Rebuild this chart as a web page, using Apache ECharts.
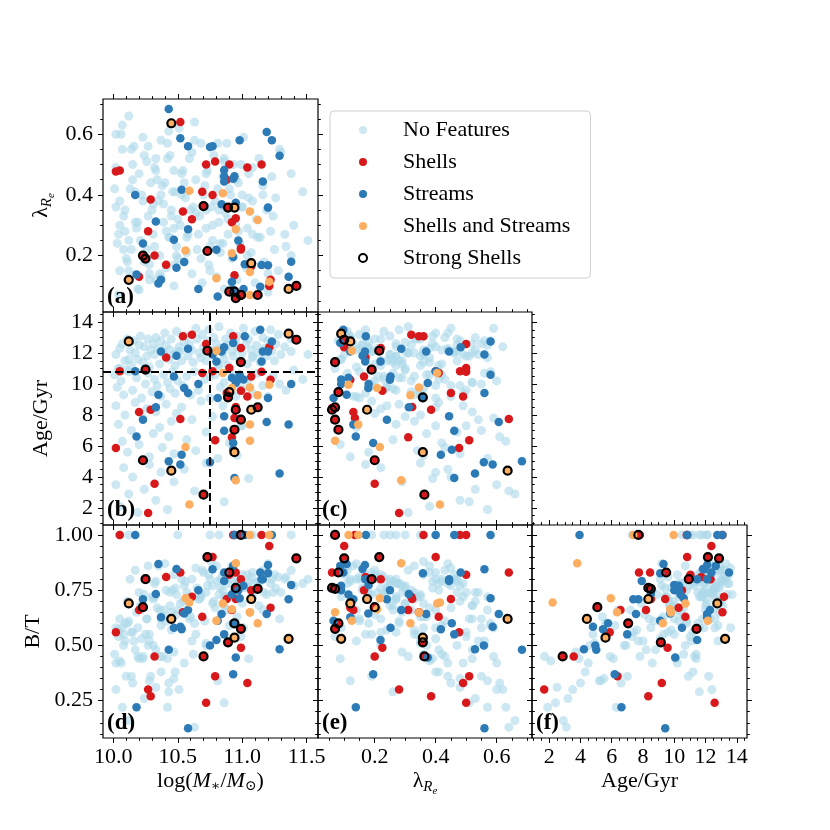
<!DOCTYPE html>
<html lang="en">
<head>
<meta charset="UTF-8">
<title>Tidal features corner plot</title>
<style>
    html, body { margin: 0; padding: 0; background: #fff; }
    #main { width: 830px; height: 830px; }
</style>
<script src="https://cdn.jsdelivr.net/npm/echarts@6/dist/echarts.min.js"></script>
</head>
<body>
<div id="main"></div>
<script>
// one row per galaxy: [log M*, lambda_Re, age (Gyr), B/T]
var noFeatures = [
    [10.02, 0.36, 11.9, 0.58], [10.05, 0.15, 12.3, 0.62], [10.07, 0.55, 12.6, 0.58], [10.09, 0.28, 11.5, 0.60],
    [10.11, 0.12, 12.9, 0.70], [10.13, 0.42, 12.2, 0.80], [10.14, 0.22, 11.2, 0.56], [10.16, 0.56, 12.8, 0.52],
    [10.17, 0.31, 12.0, 0.84], [10.19, 0.09, 11.6, 0.58], [10.20, 0.47, 12.5, 0.74], [10.21, 0.25, 13.1, 0.68],
    [10.23, 0.38, 11.4, 0.44], [10.24, 0.18, 12.4, 0.73], [10.26, 0.51, 11.8, 0.62], [10.27, 0.33, 12.9, 0.86],
    [10.28, 0.14, 11.1, 0.52], [10.29, 0.44, 12.2, 0.36], [10.04, 0.07, 11.0, 0.54], [10.10, 0.19, 10.9, 0.36],
    [10.31, 0.27, 12.6, 0.71], [10.32, 0.49, 11.9, 0.78], [10.33, 0.12, 13.0, 0.79], [10.35, 0.38, 12.3, 0.86],
    [10.36, 0.20, 11.3, 0.45], [10.37, 0.58, 12.8, 0.59], [10.39, 0.31, 12.0, 0.66], [10.40, 0.44, 13.3, 0.87],
    [10.41, 0.16, 12.5, 0.75], [10.43, 0.26, 11.6, 0.29], [10.44, 0.53, 12.2, 0.74], [10.45, 0.35, 12.9, 0.65],
    [10.47, 0.10, 11.9, 0.82], [10.48, 0.41, 11.2, 0.38], [10.49, 0.23, 13.4, 0.73], [10.51, 0.62, 12.4, 0.30],
    [10.52, 0.30, 12.1, 0.69], [10.53, 0.47, 11.5, 0.80], [10.55, 0.18, 12.7, 0.77], [10.56, 0.39, 13.1, 0.79],
    [10.58, 0.27, 11.8, 0.72], [10.59, 0.52, 12.6, 0.62], [10.61, 0.14, 12.2, 0.80], [10.62, 0.36, 11.4, 0.46],
    [10.64, 0.45, 13.6, 0.85], [10.65, 0.22, 12.9, 0.76], [10.67, 0.33, 12.0, 0.71], [10.68, 0.57, 11.7, 0.72],
    [10.69, 0.11, 13.2, 0.84], [10.70, 0.40, 12.4, 0.83],
    [10.72, 0.29, 11.5, 0.74], [10.73, 0.48, 12.8, 0.77], [10.74, 0.17, 13.5, 0.82], [10.76, 0.36, 12.2, 0.88],
    [10.77, 0.25, 11.9, 0.77], [10.78, 0.53, 13.0, 0.70], [10.80, 0.13, 12.6, 0.86], [10.81, 0.42, 11.3, 0.79],
    [10.82, 0.31, 13.7, 0.73], [10.83, 0.21, 12.3, 0.80], [10.85, 0.46, 12.0, 0.82], [10.86, 0.09, 11.6, 0.72],
    [10.87, 0.34, 12.9, 0.72], [10.88, 0.57, 12.5, 0.66], [10.89, 0.27, 11.2, 0.78], [10.91, 0.40, 13.3, 0.80],
    [10.92, 0.19, 12.1, 0.83], [10.93, 0.50, 11.8, 0.74], [10.95, 0.30, 12.7, 0.76], [10.96, 0.12, 13.1, 0.80],
    [10.97, 0.44, 12.3, 0.78], [10.98, 0.24, 11.5, 0.79], [11.00, 0.36, 12.0, 0.82], [11.01, 0.59, 13.6, 0.58],
    [11.03, 0.16, 12.6, 0.76], [11.04, 0.29, 11.3, 0.77], [11.05, 0.47, 12.9, 0.79], [11.07, 0.21, 12.2, 0.81],
    [11.08, 0.38, 11.7, 0.83], [11.10, 0.11, 13.4, 0.78], [11.11, 0.32, 12.5, 0.75], [11.13, 0.52, 12.0, 0.68],
    [11.14, 0.26, 11.4, 0.79], [11.16, 0.43, 13.0, 0.84], [11.17, 0.18, 12.3, 0.74], [11.19, 0.35, 11.8, 0.73],
    [11.20, 0.08, 12.8, 0.83], [11.22, 0.28, 13.5, 0.78], [11.23, 0.46, 12.1, 0.80], [11.25, 0.22, 11.5, 0.82],
    [11.26, 0.39, 12.6, 0.76], [11.28, 0.15, 13.2, 0.81], [11.30, 0.54, 11.9, 0.74], [11.33, 0.27, 12.4, 0.80],
    [11.38, 0.20, 12.9, 0.84],
    [10.01, 0.42, 10.6, 0.46], [10.03, 0.24, 9.8, 0.57], [10.06, 0.60, 10.2, 0.42], [10.08, 0.33, 9.3, 0.55],
    [10.12, 0.15, 10.8, 0.61], [10.15, 0.50, 9.6, 0.56], [10.18, 0.29, 10.4, 0.65], [10.22, 0.40, 9.1, 0.53],
    [10.25, 0.19, 10.0, 0.55], [10.27, 0.56, 10.7, 0.50], [10.30, 0.35, 9.5, 0.72], [10.32, 0.23, 10.3, 0.72],
    [10.34, 0.45, 9.9, 0.67], [10.37, 0.13, 9.2, 0.62], [10.39, 0.37, 10.6, 0.63], [10.42, 0.52, 10.1, 0.44],
    [10.44, 0.26, 9.7, 0.68], [10.46, 0.41, 10.8, 0.75], [10.48, 0.17, 9.4, 0.76], [10.50, 0.32, 10.2, 0.66],
    [10.54, 0.48, 9.9, 0.70], [10.57, 0.21, 10.5, 0.74], [10.60, 0.35, 9.3, 0.63], [10.63, 0.58, 10.8, 0.60],
    [10.66, 0.27, 9.6, 0.71], [10.71, 0.43, 10.3, 0.61], [10.75, 0.15, 9.1, 0.80], [10.79, 0.38, 10.6, 0.67],
    [10.83, 0.24, 9.8, 0.76], [10.86, 0.52, 10.1, 0.68], [10.89, 0.32, 9.5, 0.72], [10.92, 0.11, 10.7, 0.86],
    [10.95, 0.45, 9.2, 0.77], [10.97, 0.28, 10.4, 0.78], [11.00, 0.36, 9.7, 0.69],
    [11.04, 0.20, 10.2, 0.82], [11.08, 0.49, 9.4, 0.72], [11.12, 0.26, 10.7, 0.79], [11.16, 0.40, 9.9, 0.66],
    [11.20, 0.14, 9.2, 0.87], [11.24, 0.33, 10.5, 0.74], [11.29, 0.55, 10.0, 0.62], [11.34, 0.23, 9.6, 0.81],
    [11.40, 0.30, 10.9, 0.77], [11.47, 0.41, 10.3, 0.78], [11.51, 0.25, 11.9, 0.80],
    [10.02, 0.49, 8.6, 0.42], [10.04, 0.27, 7.4, 0.56], [10.07, 0.63, 6.3, 0.22], [10.09, 0.35, 8.0, 0.52],
    [10.11, 0.18, 5.6, 0.60], [10.14, 0.55, 7.0, 0.36], [10.17, 0.41, 8.8, 0.48], [10.20, 0.087, 6.1, 0.44],
    [10.23, 0.59, 7.8, 0.45], [10.26, 0.22, 8.4, 0.62], [10.28, 0.12, 5.3, 0.34], [10.31, 0.37, 6.8, 0.50],
    [10.33, 0.52, 8.2, 0.48], [10.36, 0.14, 7.2, 0.66], [10.38, 0.43, 5.9, 0.45], [10.41, 0.28, 8.7, 0.61],
    [10.43, 0.61, 6.6, 0.33], [10.45, 0.33, 7.6, 0.57], [10.47, 0.48, 5.5, 0.35], [10.49, 0.20, 8.1, 0.64],
    [10.53, 0.40, 8.5, 0.58], [10.57, 0.26, 6.4, 0.66], [10.61, 0.54, 7.7, 0.52], [10.64, 0.34, 5.7, 0.55],
    [10.68, 0.19, 8.9, 0.73], [10.72, 0.47, 6.9, 0.50], [10.77, 0.30, 7.9, 0.69], [10.81, 0.57, 5.2, 0.34],
    [10.85, 0.24, 8.6, 0.75], [10.90, 0.42, 6.2, 0.59], [10.96, 0.36, 5.4, 0.63], [10.99, 0.50, 7.3, 0.54],
    [10.02, 0.60, 3.5, 0.30], [10.05, 0.38, 2.1, 0.43], [10.08, 0.22, 4.6, 0.50], [10.12, 0.66, 2.9, 0.16],
    [10.15, 0.45, 4.0, 0.33], [10.19, 0.31, 1.7, 0.45], [10.24, 0.53, 3.2, 0.26], [10.28, 0.17, 4.8, 0.55],
    [10.33, 0.48, 2.5, 0.31], [10.37, 0.40, 4.3, 0.38], [10.42, 0.57, 1.9, 0.22], [10.47, 0.29, 3.7, 0.47],
    [10.55, 0.44, 4.5, 0.42], [10.63, 0.64, 3.1, 0.13], [10.72, 0.35, 4.9, 0.51], [10.86, 0.51, 2.4, 0.24],
    [11.05, 0.39, 3.9, 0.44],
    [10.12, 0.25, 11.6, 1.00], [10.50, 0.19, 12.1, 1.00], [10.75, 0.23, 10.5, 1.00], [10.82, 0.35, 11.2, 1.00],
    [11.00, 0.40, 7.3, 1.00], [11.08, 0.27, 11.8, 1.00], [11.38, 0.47, 12.1, 1.00], [10.05, 0.30, 11.0, 1.00]
];

// 5th column: 1 = strong shell
var shells = [
    [10.05, 0.48, 10.82, 1.00, 0], [10.41, 0.17, 11.72, 0.81, 0], [10.54, 0.345, 13.08, 0.65, 0],
    [10.61, 0.32, 13.18, 0.72, 0], [10.72, 0.50, 12.58, 0.24, 0], [10.69, 0.41, 10.71, 0.63, 0],
    [10.77, 0.40, 10.82, 0.90, 0], [10.93, 0.36, 13.08, 1.00, 0], [10.99, 0.22, 12.32, 0.80, 0],
    [11.07, 0.165, 10.49, 0.75, 0], [11.21, 0.10, 12.37, 0.95, 0], [11.22, 0.12, 10.28, 0.67, 0],
    [10.88, 0.45, 9.42, 0.71, 0], [10.99, 0.225, 9.57, 0.49, 0], [11.04, 0.49, 9.20, 0.33, 0],
    [10.94, 0.135, 7.80, 1.00, 0], [10.92, 0.31, 6.56, 0.66, 0], [10.79, 0.51, 6.37, 0.36, 0],
    [10.52, 0.64, 7.74, 0.83, 0], [10.29, 0.385, 8.34, 0.27, 0], [10.20, 0.13, 8.19, 0.66, 0],
    [10.02, 0.477, 5.87, 0.56, 0], [10.32, 0.20, 3.57, 0.45, 0], [10.27, 0.28, 1.68, 0.30, 0],
    [10.95, 0.06, 8.45, 0.83, 0], [10.95, 0.323, 8.51, 0.71, 0], [11.15, 0.50, 10.80, 1.00, 0],
    [10.90, 0.50, 11.03, 0.82, 0],
    [10.25, 0.19, 10.93, 0.80, 1], [10.73, 0.215, 12.15, 0.90, 1], [10.99, 0.07, 11.42, 0.575, 1],
    [11.42, 0.10, 12.86, 0.894, 1], [10.89, 0.358, 9.14, 0.514, 1], [10.90, 0.081, 9.48, 0.83, 1],
    [10.95, 0.06, 8.34, 0.76, 1], [10.99, 0.07, 7.70, 1.00, 1], [11.12, 0.07, 8.50, 0.756, 1],
    [10.94, 0.081, 7.05, 0.60, 1], [10.23, 0.20, 5.08, 0.673, 1], [10.70, 0.363, 2.86, 0.45, 1]
];

var streams = [
    [11.14, 0.097, 13.50, 0.83], [11.02, 0.171, 13.08, 1.00], [10.93, 0.087, 12.65, 0.86], [10.86, 0.482, 12.37, 0.83],
    [10.84, 0.369, 12.10, 0.642], [10.80, 0.219, 11.46, 0.525], [10.77, 0.56, 11.90, 0.845], [10.58, 0.287, 12.28, 0.66],
    [10.49, 0.16, 11.83, 0.846], [10.37, 0.12, 12.10, 0.627], [10.17, 0.40, 10.82, 1.00], [10.47, 0.252, 10.49, 0.58],
    [10.66, 0.09, 10.00, 0.75], [10.55, 0.179, 9.74, 0.645], [10.58, 0.56, 9.42, 0.125], [10.35, 0.108, 9.31, 0.869],
    [10.33, 0.312, 8.50, 0.733], [10.23, 0.24, 7.70, 0.709], [10.18, 0.138, 6.62, 0.22], [10.53, 0.417, 5.44, 0.573],
    [10.52, 0.587, 4.80, 0.585], [10.43, 0.683, 5.01, 0.48], [10.75, 0.558, 4.95, 0.50], [10.94, 0.461, 3.94, 1.00],
    [11.29, 0.529, 4.22, 0.483], [11.36, 0.13, 7.38, 0.709], [11.19, 0.607, 7.55, 0.642], [10.93, 0.195, 6.19, 0.37],
    [10.86, 0.461, 6.99, 0.55], [10.97, 0.25, 10.28, 0.75], [10.98, 0.58, 10.60, 0.713], [10.95, 0.374, 10.06, 0.445],
    [11.01, 0.09, 10.30, 0.77], [10.92, 0.114, 10.40, 0.73], [10.81, 0.065, 9.10, 0.612], [11.15, 0.169, 11.46, 0.80],
    [11.23, 0.58, 12.75, 1.00], [11.20, 0.168, 12.10, 0.864], [11.16, 0.444, 12.10, 0.80], [11.38, 0.18, 10.00, 0.774],
    [11.20, 0.358, 9.10, 0.827], [10.93, 0.453, 5.76, 0.60], [10.86, 0.444, 7.92, 0.792]
];

var shellsStreams = [
    [10.80, 0.125, 12.15, 0.612, 0], [10.85, 0.405, 10.71, 0.69, 0], [11.06, 0.345, 9.78, 0.649, 0],
    [11.12, 0.317, 9.27, 0.60, 0], [11.21, 0.114, 9.96, 1.00, 0], [10.92, 0.208, 9.74, 0.664, 0],
    [11.06, 0.146, 7.38, 1.00, 0], [11.06, 0.07, 6.34, 0.65, 0], [10.56, 0.217, 5.94, 0.713, 0],
    [10.95, 0.287, 3.79, 0.872, 0], [10.59, 0.414, 2.22, 0.694, 0],
    [11.36, 0.09, 13.25, 0.53, 1], [10.12, 0.12, 12.75, 0.69, 1], [11.07, 0.175, 8.34, 0.71, 1],
    [10.94, 0.358, 5.60, 0.535, 1], [10.45, 0.636, 4.41, 0.62, 1]
];

var logMTicks = [10.0, 10.5, 11.0, 11.5];
var lamTicks = [0.2, 0.4, 0.6];
var ageTicks = [2, 4, 6, 8, 10, 12, 14];
var btTicks = [0.25, 0.50, 0.75, 1.00];

var massCut = 10.75;   // dashed lines in (b)
var ageCut = 10.8;

var SERIF = "'Liberation Serif', 'DejaVu Serif', serif";
var FS = 22;

var rich = {
    n: { fontFamily: SERIF, fontSize: FS, lineHeight: 24, padding: [0, 0, 6, 0], verticalAlign: 'bottom', color: '#000' },
    i: { fontFamily: SERIF, fontSize: FS, lineHeight: 24, padding: [0, 0, 6, 0], verticalAlign: 'bottom', fontStyle: 'italic', color: '#000' },
    s: { fontFamily: SERIF, fontSize: 14, lineHeight: 14, padding: [0, 0, 5, 0], verticalAlign: 'bottom', color: '#000' },
    r: { fontFamily: SERIF, fontSize: 15, lineHeight: 15, padding: [0, 0, 3, 0], verticalAlign: 'bottom', fontStyle: 'italic', color: '#000' },
    e: { fontFamily: SERIF, fontSize: 11, lineHeight: 11, padding: [0, 0, 1, 0], verticalAlign: 'bottom', fontStyle: 'italic', color: '#000' }
};

var dims = [
    { min: 9.92, max: 11.588, ticks: logMTicks, minorStep: 0.1, dec: 1, name: '{n|log(}{i|M}{s|∗}{n|/}{i|M}{s|⊙}{n|)}' },
    { min: 0.014, max: 0.716, ticks: lamTicks, minorStep: 0.05, dec: 1, name: '{n|λ}{r|R}{e|e}' },
    { min: 0.9, max: 14.65, ticks: ageTicks, minorStep: 0.5, dec: 0, name: '{n|Age/Gyr}' },
    { min: 0.081, max: 1.045, ticks: btTicks, minorStep: 0.05, dec: 2, name: '{n|B/T}' }
];

var H = 213;
var panels = [
    { x: 0, y: 1, left: 103, top: 99,  w: 215, label: '(a)', xl: false, yl: true },
    { x: 0, y: 2, left: 103, top: 312, w: 215, label: '(b)', xl: false, yl: true, cuts: true },
    { x: 1, y: 2, left: 318, top: 312, w: 214, label: '(c)', xl: false, yl: false },
    { x: 0, y: 3, left: 103, top: 525, w: 215, label: '(d)', xl: true,  yl: true },
    { x: 1, y: 3, left: 318, top: 525, w: 214, label: '(e)', xl: true,  yl: false },
    { x: 2, y: 3, left: 532, top: 525, w: 215, label: '(f)', xl: true,  yl: false }
];

function minorValues(d) {
    var out = [];
    for (var k = Math.ceil(d.min / d.minorStep - 1e-9); k * d.minorStep <= d.max + 1e-9; k++) {
        out.push(+(k * d.minorStep).toFixed(4));
    }
    return out;
}

function makeAxis(isX, gi, d, position, major, labelled) {
    var ax = {
        type: 'value', gridIndex: gi, min: d.min, max: d.max, position: position,
        axisLine: { show: false, onZero: false },
        splitLine: { show: false },
        axisTick: {
            show: true, inside: false, length: major ? 5 : 2.8,
            lineStyle: { color: '#000', width: 1 },
            customValues: major ? d.ticks : minorValues(d)
        },
        axisLabel: {
            show: labelled, customValues: d.ticks,
            formatter: function (v) { return v.toFixed(d.dec); },
            fontFamily: SERIF, fontSize: FS, color: '#000', margin: isX ? 8 : 10
        }
    };
    if (labelled) {
        ax.name = d.name;
        ax.nameLocation = 'middle';
        ax.nameTextStyle = { rich: rich };
        if (isX) {
            ax.nameGap = 36;
        } else {
            ax.nameGap = 45;
            ax.nameRotate = 90;
        }
    }
    return ax;
}

var grids = [], xAxes = [], yAxes = [], series = [], graphics = [];

var strongRows = shells.filter(function (r) { return r[4] === 1; })
    .concat(shellsStreams.filter(function (r) { return r[4] === 1; }));

var groups = [
    { name: 'No Features', rows: noFeatures, size: 9, style: { color: '#abd9e9', opacity: 0.6 } },
    { name: 'Shells', rows: shells, size: 8.5, style: { color: '#d7191c', opacity: 1 } },
    { name: 'Streams', rows: streams, size: 8.5, style: { color: '#2c7bb6', opacity: 1 } },
    { name: 'Shells and Streams', rows: shellsStreams, size: 8.5, style: { color: '#fdae61', opacity: 1 } },
    { name: 'Strong Shells', rows: strongRows, size: 8, style: { color: 'rgba(0,0,0,0)', borderColor: '#000', borderWidth: 2.2, opacity: 1 } }
];

panels.forEach(function (p, gi) {
    grids.push({
        left: p.left, top: p.top, width: p.w, height: H,
        show: true, borderColor: '#000', borderWidth: 1.2, backgroundColor: 'transparent',
        outerBoundsMode: 'none'
    });
    var dx = dims[p.x], dy = dims[p.y];
    xAxes.push(makeAxis(true, gi, dx, 'bottom', true, p.xl));
    xAxes.push(makeAxis(true, gi, dx, 'bottom', false, false));
    xAxes.push(makeAxis(true, gi, dx, 'top', true, false));
    xAxes.push(makeAxis(true, gi, dx, 'top', false, false));
    yAxes.push(makeAxis(false, gi, dy, 'left', true, p.yl));
    yAxes.push(makeAxis(false, gi, dy, 'left', false, false));
    yAxes.push(makeAxis(false, gi, dy, 'right', true, false));
    yAxes.push(makeAxis(false, gi, dy, 'right', false, false));

    groups.forEach(function (g, k) {
        var s = {
            type: 'scatter', name: g.name,
            xAxisIndex: 4 * gi, yAxisIndex: 4 * gi,
            symbol: 'circle', symbolSize: g.size,
            itemStyle: g.style,
            silent: true,
            data: g.rows.map(function (r) { return [r[p.x], r[p.y]]; })
        };
        if (p.cuts && k === 0) {
            s.markLine = {
                silent: true, symbol: ['none', 'none'], label: { show: false },
                lineStyle: { color: '#000', type: [8, 4], width: 2, opacity: 1 },
                data: [{ xAxis: massCut }, { yAxis: ageCut }]
            };
        }
        series.push(s);
    });

    graphics.push({
        type: 'text', left: p.left + 4, top: p.top + H - 26, z: 100,
        style: { text: p.label, font: 'bold 23px ' + SERIF, fill: '#000' }
    });
});

var chart = echarts.init(document.getElementById('main'));
chart.setOption({
    animation: false,
    backgroundColor: '#fff',
    grid: grids,
    xAxis: xAxes,
    yAxis: yAxes,
    legend: {
        left: 330, top: 111, orient: 'vertical',
        padding: [7, 20, 8, 28], itemGap: 8, itemWidth: 8, itemHeight: 8,
        backgroundColor: '#fff', borderColor: '#d0d0d0', borderWidth: 1, borderRadius: 4,
        selectedMode: false,
        textStyle: { fontFamily: SERIF, fontSize: FS, color: '#000', lineHeight: 24, padding: [0, 0, 0, 31] },
        data: [
            { name: 'No Features', icon: 'circle', itemStyle: { color: '#abd9e9', opacity: 0.6 } },
            { name: 'Shells', icon: 'circle', itemStyle: { color: '#d7191c', opacity: 1 } },
            { name: 'Streams', icon: 'circle', itemStyle: { color: '#2c7bb6', opacity: 1 } },
            { name: 'Shells and Streams', icon: 'circle', itemStyle: { color: '#fdae61', opacity: 1 } },
            { name: 'Strong Shells', icon: 'circle', itemStyle: { color: '#fff', borderColor: '#000', borderWidth: 2, opacity: 1 } }
        ]
    },
    graphic: graphics,
    series: series
});
</script>
</body>
</html>
